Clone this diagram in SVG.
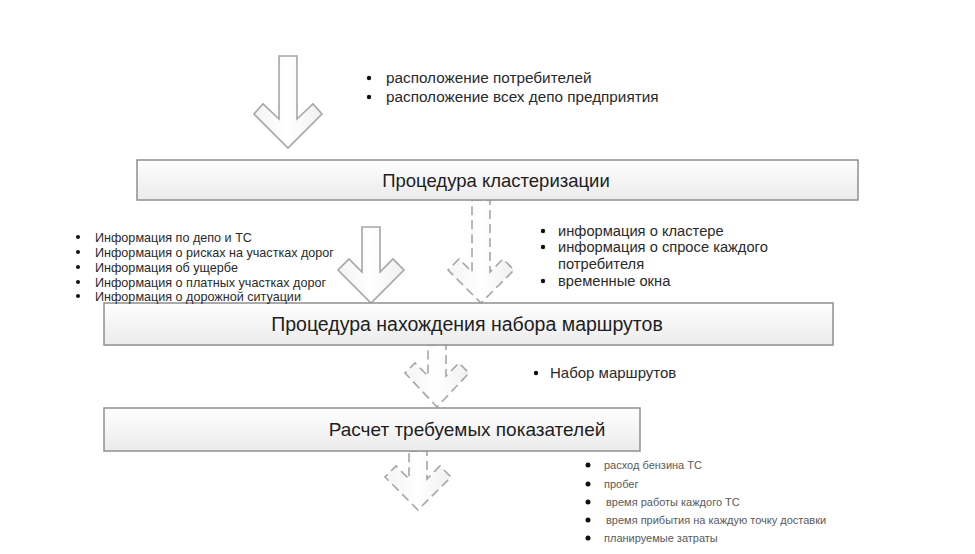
<svg xmlns="http://www.w3.org/2000/svg" width="975" height="554" viewBox="0 0 975 554">
<defs>
<linearGradient id="boxg" x1="0" y1="0" x2="0" y2="1">
<stop offset="0" stop-color="#ffffff"/>
<stop offset="1" stop-color="#ebebeb"/>
</linearGradient>
<linearGradient id="arrg" x1="0" y1="0" x2="1" y2="0">
<stop offset="0" stop-color="#f4f4f4"/>
<stop offset="0.5" stop-color="#ffffff"/>
<stop offset="1" stop-color="#f0f0f0"/>
</linearGradient>
</defs>
<style>
.box{fill:url(#boxg);stroke:#8f8f8f;stroke-width:1.5}
.arr{fill:url(#arrg);stroke:#a6a6a6;stroke-width:1.6;stroke-linejoin:miter}
.dash{stroke-dasharray:9 5}
.bt{font-family:"Liberation Sans",Arial,sans-serif;fill:#1e1e1e;text-anchor:middle}
.lt{font-family:"Liberation Sans",Arial,sans-serif;fill:#2a2a2a}
.st{font-family:"Liberation Sans",Arial,sans-serif;fill:#5a5a5a}
.bl{fill:#111111}
</style>
<rect width="975" height="554" fill="#ffffff"/>

<g id="connectors">
<path id="arrow-in-1" class="arr" d="M279,56 H297 V119 L313,104 L322,114 L288,148 L254,114 L263,104 L279,119 Z"/>
<path id="arrow-in-2" class="arr" d="M362,227 H380 V272 L393,259 L404,270 L371,303 L338,270 L349,259 L362,272 Z"/>
<path id="arrow-1-2" class="arr dash" d="M472,200 H490 V272 L503,259 L514,270 L481,303 L448,270 L459,259 L472,272 Z"/>
<path id="arrow-2-3" class="arr dash" d="M428,345 H446 V376 L459,363 L469,373 L437,407 L405,373 L415,363 L428,376 Z"/>
<path id="arrow-3-out" class="arr dash" d="M409,451 H427 V479 L440,466 L451,477 L418,510 L385,477 L396,466 L409,479 Z"/>
</g>

<g id="node-clustering">
<rect class="box" x="137" y="160" width="721" height="40"/>
<text class="bt" x="496" y="187" font-size="18.5">Процедура кластеризации</text>
</g>

<g id="node-routes">
<rect class="box" x="104" y="303" width="729" height="42"/>
<text class="bt" x="467" y="331" font-size="19.5">Процедура нахождения набора маршрутов</text>
</g>

<g id="node-calc">
<rect class="box" x="104" y="408" width="536" height="43"/>
<text class="bt" x="467" y="436" font-size="19">Расчет требуемых показателей</text>
</g>

<g id="list-input-1">
<circle class="bl" cx="369" cy="78" r="2.2"/>
<circle class="bl" cx="369" cy="97" r="2.2"/>
<text class="lt" x="386" y="83" font-size="15.3">расположение потребителей</text>
<text class="lt" x="386" y="102" font-size="15.3">расположение всех депо предприятия</text>
</g>

<g id="list-input-2">
<circle class="bl" cx="78" cy="237" r="2"/>
<circle class="bl" cx="78" cy="252" r="2"/>
<circle class="bl" cx="78" cy="267" r="2"/>
<circle class="bl" cx="78" cy="282" r="2"/>
<circle class="bl" cx="78" cy="296" r="2"/>
<text class="lt" x="95" y="241.5" font-size="12.6">Информация по депо и ТС</text>
<text class="lt" x="95" y="256.5" font-size="12.6">Информация о рисках на участках дорог</text>
<text class="lt" x="95" y="271.5" font-size="12.6">Информация об ущербе</text>
<text class="lt" x="95" y="286.5" font-size="12.6">Информация о платных участках дорог</text>
<text class="lt" x="95" y="300.5" font-size="12.6">Информация о дорожной ситуации</text>
</g>

<g id="list-cluster-out">
<circle class="bl" cx="543" cy="231" r="2.2"/>
<circle class="bl" cx="543" cy="247" r="2.2"/>
<circle class="bl" cx="543" cy="281" r="2.2"/>
<text class="lt" x="558" y="236" font-size="14.7">информация о кластере</text>
<text class="lt" x="558" y="252" font-size="14.7">информация о спросе каждого</text>
<text class="lt" x="558" y="269" font-size="14.7">потребителя</text>
<text class="lt" x="558" y="286" font-size="14.7">временные окна</text>
</g>

<g id="list-routes-out">
<circle class="bl" cx="536" cy="373" r="2.2"/>
<text class="lt" x="550" y="378" font-size="15">Набор маршрутов</text>
</g>

<g id="list-results">
<circle class="bl" cx="588" cy="465" r="2.5"/>
<circle class="bl" cx="588" cy="484" r="2.5"/>
<circle class="bl" cx="588" cy="502" r="2.5"/>
<circle class="bl" cx="588" cy="520" r="2.5"/>
<circle class="bl" cx="588" cy="538" r="2.5"/>
<text class="st" x="604" y="469" font-size="11">расход бензина ТС</text>
<text class="st" x="604" y="488" font-size="11">пробег</text>
<text class="st" x="606" y="506" font-size="11">время работы каждого ТС</text>
<text class="st" x="606" y="524" font-size="11">время прибытия на каждую точку доставки</text>
<text class="st" x="604" y="542" font-size="11">планируемые затраты</text>
</g>
</svg>
